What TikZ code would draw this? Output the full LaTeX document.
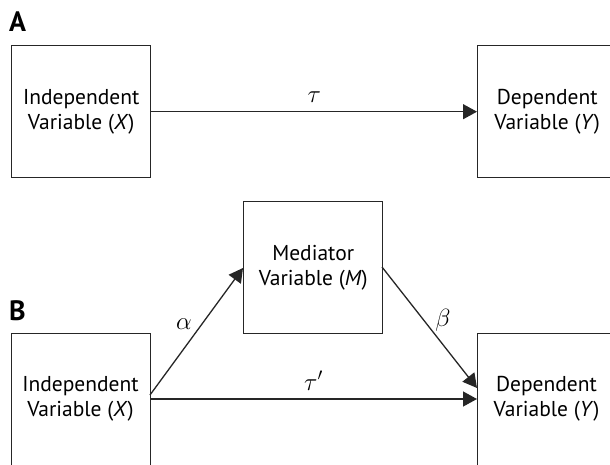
\documentclass[tikz,border=0pt]{standalone}
\usepackage{fontspec}
\setmainfont{PT Sans}
\usetikzlibrary{arrows.meta}
\begin{document}
\begin{tikzpicture}[x=1pt,y=-1pt,
  txt/.style={font=\fontsize{21.5}{25.5}\selectfont},
  varbox/.style={draw=black!85, line width=1.4pt, minimum width=139pt, minimum height=132pt, inner sep=0pt, align=center, txt},
  conn/.style={draw=black!85, line width=1.3pt, -{Triangle[length=14pt,width=15pt]}},
  lbl/.style={font=\fontsize{23}{26}\selectfont},
  panel/.style={font=\bfseries\fontsize{28}{32}\selectfont}]
\useasboundingbox (0,0) rectangle (610,465);
\clip (0,0) rectangle (610,465);
\node[panel, anchor=west, inner sep=0pt] (A) at (9,22) {A};
\node[varbox, anchor=north west] (ax) at (11,45) {Independent\\Variable (\textit{X})};
\node[varbox, anchor=north west] (ay) at (477,45) {Dependent\\Variable (\textit{Y})};
\draw[conn] (ax.east) -- (ay.west) node[lbl, midway, above=5pt] {$\tau$};
\node[panel, anchor=west, inner sep=0pt] (B) at (9,311) {B};
\node[varbox, anchor=north west] (m) at (243,201) {Mediator\\Variable (\textit{M})};
\node[varbox, anchor=north west, minimum height=140pt] (bx) at (11,333) {};
\node[txt, align=center] (bxt) at (80.5,399) {Independent\\Variable (\textit{X})};
\node[varbox, anchor=north west, minimum height=140pt] (by) at (477,333) {};
\node[txt, align=center] (byt) at (546.5,399) {Dependent\\Variable (\textit{Y})};
\coordinate (bxe) at (150,399);
\coordinate (bxa) at (150,395);
\coordinate (bye) at (477,399);
\coordinate (bya) at (477,388);
\coordinate (ml) at (243,268);
\coordinate (mr) at (382,267);
\draw[conn] (bxe) -- (bye) node[lbl, midway, above=5pt] {$\tau'$};
\draw[conn] (bxa) -- (ml);
\draw[conn] (mr) -- (bya);
\node[lbl] (alpha) at (184,324) {$\alpha$};
\node[lbl] (beta) at (443,320) {$\beta$};
\end{tikzpicture}
\end{document}
